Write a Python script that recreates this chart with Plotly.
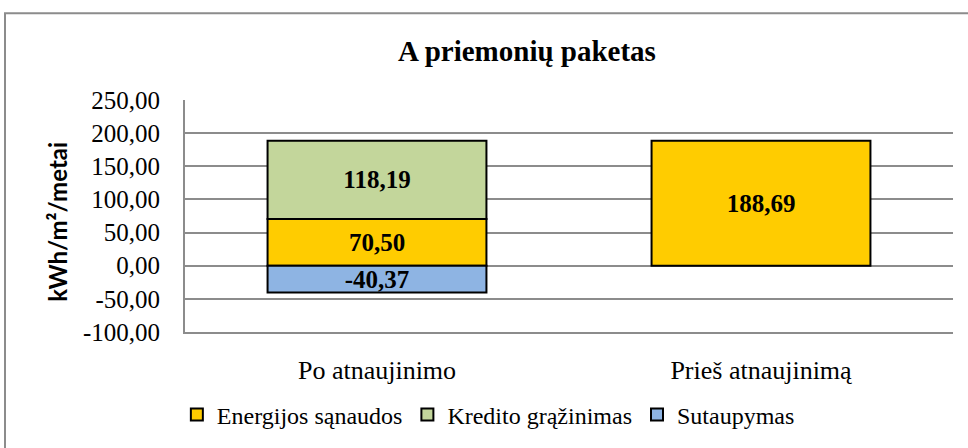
import plotly.graph_objects as go

categories = ["Po atnaujinimo", "Prieš atnaujinimą"]
energijos = [70.50, 188.69]
kredito = [118.19, None]
sutaupymas = [-40.37, None]
tick_vals = [-100, -50, 0, 50, 100, 150, 200, 250]


def fmt(v):
    return "" if v is None else f"{v:.2f}".replace(".", ",")


tick_text = [fmt(v) for v in tick_vals]

line = dict(color="black", width=2)
txt = dict(family="Liberation Serif", size=25, color="black")


def bar(name, vals, color):
    return go.Bar(name=name, x=categories, y=vals,
                  marker=dict(color=color, line=line),
                  text=[f"<b>{fmt(v)}</b>" if v is not None else "" for v in vals],
                  textposition="inside", insidetextanchor="middle",
                  textangle=0, textfont=txt)


fig = go.Figure()
fig.add_trace(bar("Energijos sąnaudos", energijos, "#FFCC00"))
fig.add_trace(bar("Kredito grąžinimas", kredito, "#C3D69B"))
fig.add_trace(bar("Sutaupymas", sutaupymas, "#8EB4E3"))

fig.update_layout(
    barmode="relative",
    bargap=0.43,
    width=968, height=448,
    margin=dict(l=185, r=15, t=100, b=115),
    paper_bgcolor="white", plot_bgcolor="white",
    font=dict(family="Liberation Serif", size=24, color="black"),
    uniformtext=dict(minsize=25, mode="show"),
    title=dict(text="<b>A priemonių paketas</b>", x=527 / 968, xref="container", xanchor="center",
               y=1 - 51 / 448, yref="container", yanchor="middle",
               font=dict(family="Liberation Serif", size=29, color="black")),
    legend=dict(orientation="h", x=0.395, xanchor="center", y=-0.352, yanchor="middle",
                font=dict(family="Liberation Serif", size=24), itemclick=False,
                traceorder="normal", itemwidth=30),
    showlegend=True,
)
fig.update_xaxes(showgrid=False, showline=True, linecolor="#8C8C8C", linewidth=2,
                 ticks="", ticklabelstandoff=14,
                 tickfont=dict(family="Liberation Serif", size=26))
fig.update_yaxes(range=[-100, 250], tickvals=tick_vals, ticktext=tick_text,
                 showgrid=True, gridcolor="#8C8C8C", gridwidth=2,
                 showline=True, linecolor="#8C8C8C", linewidth=2, mirror=False,
                 zeroline=False, ticks="", ticklabelstandoff=18,
                 tickfont=dict(family="Liberation Serif", size=25))
fig.add_annotation(text="<b>kWh/m²/metai</b>", textangle=-90, x=(58 - 185) / 768, y=0.475,
                   xref="paper", yref="paper", xanchor="center", yanchor="middle",
                   showarrow=False,
                   font=dict(family="Lato", size=24, color="black"))
fig.add_shape(type="rect", xref="paper", yref="paper", x0=(5 - 185) / 768, x1=1.1,
              y0=-0.7, y1=(333 - 13) / 233, line=dict(color="#8C8C8C", width=2), layer="below")
fig.write_html("out.html", config={"displayModeBar": False},
               post_script="document.body.style.margin='0';")
